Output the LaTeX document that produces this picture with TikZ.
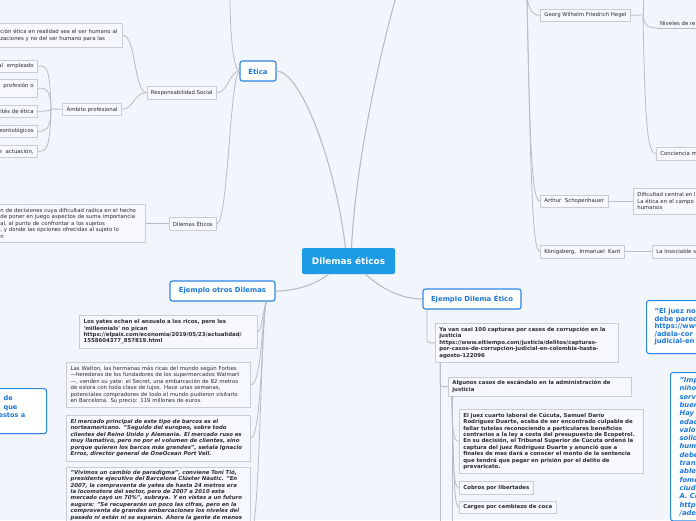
\documentclass[tikz,border=0pt]{standalone}
\usepackage{fontspec}
\setmainfont{DejaVu Sans}
\usetikzlibrary{shadows}
\definecolor{bg}{RGB}{242,245,252}
\definecolor{gfill}{RGB}{246,248,253}
\definecolor{gline}{RGB}{200,204,212}
\definecolor{gtext}{RGB}{45,45,50}
\definecolor{cline}{RGB}{185,188,195}
\definecolor{bborder}{RGB}{45,135,228}
\definecolor{btext}{RGB}{28,120,218}
\definecolor{rootblue}{RGB}{30,155,229}
\newcommand\gtxt{\fontsize{5.4}{6.45}\selectfont}
\newcommand\gtxtb{\bfseries\fontsize{5.4}{6.45}\selectfont}
\newcommand\gtxti{\bfseries\itshape\fontsize{5.4}{6.45}\selectfont}
\newcommand\btxt{\bfseries\fontsize{6.9}{8}\selectfont}
\newcommand\rtxt{\bfseries\fontsize{8.9}{10}\selectfont}
\newcommand\btxtl{\bfseries\fontsize{6.6}{8.4}\selectfont}
\newcommand\btxtj{\bfseries\fontsize{6.8}{7.5}\selectfont}
\newcommand\btxtk{\bfseries\itshape\fontsize{6.8}{8.3}\selectfont}
\tikzset{
  conn/.style={draw=cline, line width=0.8pt},
  rconn/.style={draw=cline, line width=1.1pt},
  gbox/.style={draw=gline, fill=gfill, line width=0.7pt, text=gtext, font=\gtxt, inner xsep=4pt, inner ysep=2.5pt, align=left},
  gboxb/.style={gbox, font=\gtxtb},
  gboxi/.style={gbox, font=\gtxti},
  lone/.style={draw=bborder, fill=white, line width=1.1pt, rounded corners=2.5pt, text=btext, font=\btxt, drop shadow={opacity=0.18, shadow xshift=0.6pt, shadow yshift=-0.8pt}},
  rootbox/.style={fill=rootblue, rounded corners=2pt, text=white, font=\rtxt, minimum width=93pt, minimum height=26pt, inner sep=0pt},
}
\begin{document}
\begin{tikzpicture}[x=1pt,y=-1pt]
\useasboundingbox (0,0) rectangle (696,520);
\clip (0,0) rectangle (696,520);
\fill[bg] (0,0) rectangle (696,520);

% free ends
\coordinate (topC) at (396,-3);
\coordinate (topL) at (230,-3);
\coordinate (topR) at (527,-3);
\coordinate (hj) at (643,15);
\coordinate (topH) at (643,-3);
\coordinate (aj) at (51,109);
\coordinate (nivEnd) at (700,28);
\coordinate (yaEnd) at (440,530);
\coordinate (algEnd) at (452,530);

% main nodes
\node[rootbox] (root) at (348.5,261) {Dilemas éticos};
\node[lone, minimum width=36pt, minimum height=20pt, inner sep=0pt] (etica) at (258,71) {Ética};
\node[lone, minimum width=105pt, minimum height=20pt, inner sep=0pt] (otros) at (222.5,291) {Ejemplo otros Dilemas};
\node[lone, minimum width=98pt, minimum height=20pt, inner sep=0pt] (dilema) at (472,299) {Ejemplo Dilema Ético};

% left: Etica branch
\node[gbox, anchor=north east, minimum height=13pt] (rs) at (217,86) {Responsabilidad Social};
\node[gbox, anchor=north west, text width=118pt, minimum height=24pt] (tl) at (-4,23) {ción ética en realidad sea el ser humano al\\zaciones y no del ser humano para las};
\node[gbox, anchor=north east, minimum height=12pt] (amb) at (122,103) {Ámbito profesional};
\node[gbox, anchor=north east, text width=60pt, align=right, minimum height=11.5pt] (b1) at (38,60) {al\ \ empleado};
\node[gbox, anchor=north east, text width=60pt, align=right, minimum height=18pt] (b2) at (38,79) {profesión o\\~};
\node[gbox, anchor=north east, text width=60pt, align=right, minimum height=12pt] (b3) at (38,105) {ités de ética};
\node[gbox, anchor=north east, text width=60pt, align=right, minimum height=12pt] (b4) at (38,125) {deontológicos};
\node[gbox, anchor=north east, text width=60pt, align=right, minimum height=12pt] (b5) at (38,145) {de\ \ actuación,};
\node[gbox, anchor=north east, minimum height=12.5pt] (de) at (217,217) {Dilemas Éticos};
\node[gbox, anchor=north west, text width=141pt, minimum height=38pt] (big) at (-4,204) {n de decisiones cuya dificultad radica en el hecho\\de poner en juego aspectos de suma importancia\\al, al punto de confrontar a los sujetos\\, y donde las opciones ofrecidas al sujeto lo\\n};

% left blue box
\node[lone, anchor=north west, text width=42pt, align=left, inner xsep=4pt, inner ysep=5pt, minimum height=45pt, font=\btxtl] (lb) at (-4,388) {\hspace*{3pt}de\\\hspace*{3pt}que\\\hspace*{-2pt}estos a\\~};

% Ejemplo otros Dilemas children
\node[gboxb, anchor=north east, text width=170pt, minimum height=33pt] (y1) at (258,315) {Los yates echan el anzuelo a los ricos, pero los\\\textquotesingle millennials\textquotesingle{} no pican\\https://elpais.com/economia/2019/05/23/actualidad/\\1558604377\_857819.html};
\node[gbox, anchor=north east, text width=176pt, minimum height=45pt] (y2) at (251,362) {Las Walton, las hermanas más ricas del mundo según Forbes\\—herederas de los fundadores de los supermercados Walmart\\—, venden su yate: el Secret, una embarcación de 82 metros\\de eslora con toda clase de lujos. Hace unas semanas,\\potenciales compradores de todo el mundo pudieron visitarlo\\en Barcelona. Su precio: 119 millones de euros.};
\node[gboxi, anchor=north east, text width=176pt, minimum height=46pt] (y3) at (251,414.5) {El mercado principal de este tipo de barcos es el\\norteamericano. "Seguido del europeo, sobre todo\\clientes del Reino Unido y Alemania. El mercado ruso es\\muy llamativo, pero no por el volumen de clientes, sino\\porque quieren los barcos más grandes", señala Ignacio\\Erroz, director general de OneOcean Port Vell.};
\node[gboxi, anchor=north east, text width=176pt] (y4) at (251,467) {"Vivimos un cambio de paradigma", conviene Toni Tió,\\presidente ejecutivo del Barcelona Clúster Nàutic. "En\\2007, la compraventa de yates de hasta 24 metros era\\la locomotora del sector, pero de 2007 a 2010 este\\mercado cayó un 70\%", subraya. Y en vistas a un futuro\\augura: "Se recuperarán un poco las cifras, pero en la\\compraventa de grandes embarcaciones los niveles del\\pasado ni están ni se esperan. Ahora la gente de menos\\[70pt]~};

% Ejemplo Dilema Etico children
\node[gboxb, anchor=north west, text width=175pt, minimum height=39pt] (ya) at (435,323) {Ya van casi 100 capturas por casos de corrupción en la\\justicia\\https://www.eltiempo.com/justicia/delitos/capturas-\\por-casos-de-corrupcion-judicial-en-colombia-hasta-\\agosto-122096};
\node[gboxb, anchor=north west, text width=175pt, minimum height=18.5pt] (alg) at (448,377) {Algunos casos de escándalo en la administración de\\justicia};
\node[gboxb, anchor=north west, text width=176pt, minimum height=64pt] (jc) at (459,409) {El juez cuarto laboral de Cúcuta, Samuel Darío\\Rodríguez Duarte, acaba de ser encontrado culpable de\\fallar tutelas reconociendo a particulares beneficios\\contrarios a la ley a costa del presupuesto de Ecopetrol.\\En su decisión, el Tribunal Superior de Cúcuta ordenó la\\captura del juez Rodríguez Duarte y anunció que a\\finales de mes dará a conocer el monto de la sentencia\\que tendrá que pagar en prisión por el delito de\\prevaricato.};
\node[gboxb, anchor=north west, minimum height=12.5pt] (cob) at (459,481) {Cobros por libertades};
\node[gboxb, anchor=north west, minimum height=12.5pt] (car) at (459,500.5) {Cargos por cambiazo de coca};

% right blue boxes
\node[lone, anchor=north west, text width=60pt, align=left, inner xsep=8pt, inner ysep=5pt, minimum height=53pt, font=\btxtj] (juez) at (646,300) {"El juez no\\debe parec\\https://www\\/adela-cor\\judicial-en};
\node[lone, anchor=north west, text width=40pt, align=left, inner xsep=9pt, inner ysep=5pt, font=\btxtk] (imp) at (670,372) {"Imp\\niño\\serv\\buen\\Hay\\edac\\valo\\solid\\hum\\debe\\trans\\able\\fome\\ciud\\A. Co\\https\\/ade};

% right: philosophers
\node[gbox, anchor=north west, minimum height=12pt] (hegel) at (540,9) {Georg Wilhelm Friedrich Hegel};
\node[gbox, anchor=north west, minimum height=12pt] (schop) at (540,195) {Arthur\ \ Schopenhauer};
\node[gbox, anchor=north west, minimum height=12.5pt] (kant) at (540,245) {Königsberg,\ \ Inmanuel\ \ Kant};
\node[gbox, anchor=north west, text width=100pt, minimum height=26pt] (dific) at (633,188) {Dificultad central en l\\La ética en el campo\\humanos};
\node[gbox, anchor=north west, text width=100pt, minimum height=12.5pt] (insoc) at (652,245) {La insociable s};
\node[gbox, anchor=north west, text width=100pt, minimum height=13pt] (conc) at (656,147) {Conciencia m};
\node[anchor=south west, inner xsep=3pt, inner ysep=2pt, font=\gtxt, text=gtext] (niv) at (657,28) {Niveles de re};

% connectors from root
\draw[rconn] ([xshift=-3pt]root.north) .. controls (335,160) and (300,71) .. (etica.east);
\draw[rconn] ([xshift=3pt]root.north) .. controls (355,170) and (378,60) .. (topC);
\draw[rconn] ([xshift=-20pt]root.south) .. controls (315,285) and (295,291) .. (otros.east);
\draw[rconn] ([xshift=17pt]root.south) .. controls (385,292) and (405,299) .. (dilema.west);

% Etica
\draw[conn] (etica.west) .. controls (233,70) and (230,30) .. (topL);
\draw[conn] (etica.west) .. controls (230,71) and (228,92) .. (rs.east);
\draw[conn] (etica.west) .. controls (230,75) and (228,222) .. (de.east);
\draw[conn] (rs.west) .. controls (134,92) and (136,35) .. (tl.east);
\draw[conn] (rs.west) .. controls (134,92) and (134,109) .. (amb.east);
\draw[conn] (amb.west) -- (aj);
\draw[conn] (aj) .. controls (50,65.5) and (46,65.5) .. (b1.east);
\draw[conn] (aj) .. controls (50,88) and (46,88) .. (b2.east);
\draw[conn] (aj) .. controls (50,111) and (46,111) .. (b3.east);
\draw[conn] (aj) .. controls (50,131) and (46,131) .. (b4.east);
\draw[conn] (aj) .. controls (50,151) and (46,151) .. (b5.east);
\draw[conn] (de.west) -- (big.east);

% otros children
\draw[conn] ([xshift=-9pt]otros.south east) .. controls (262,312) and (262,331) .. (y1.east);
\draw[conn] ([xshift=-9pt]otros.south east) .. controls (262,312) and (262,384) .. (y2.east);
\draw[conn] ([xshift=-9pt]otros.south east) .. controls (262,312) and (262,437) .. (y3.east);
\draw[conn] ([xshift=-9pt]otros.south east) .. controls (261,312) and (260,530) .. (y4.east);

% dilema children
\draw[conn, rounded corners=3pt] ([xshift=-45pt]dilema.south) |- (ya.west);
\draw[conn, rounded corners=3pt] ([xshift=5pt]ya.south west) |- (alg.west);
\draw[conn] ([xshift=5pt]ya.south west) -- (yaEnd);
\draw[conn] ([xshift=4pt]alg.south west) .. controls (452,430) and (453,441) .. (jc.west);
\draw[conn] ([xshift=4pt]alg.south west) .. controls (453,475) and (454,487) .. (cob.west);
\draw[conn] ([xshift=4pt]alg.south west) .. controls (454,495) and (455,506.5) .. (car.west);
\draw[conn] ([xshift=4pt]alg.south west) -- (algEnd);

% philosophers
\draw[conn] (topR) .. controls (529,10) and (532,15) .. (hegel.west);
\draw[conn] (topR) .. controls (530,150) and (532,201) .. (schop.west);
\draw[conn] (topR) .. controls (531,200) and (533,251) .. (kant.west);
\draw[conn] (hegel.east) -- (hj);
\draw[conn] (hj) -- (topH);
\draw[conn] (hj) .. controls (644,27) and (650,28) .. (niv.south west);
\draw[conn] (niv.south west) -- (nivEnd);
\draw[conn] (hj) .. controls (645,120) and (647,153.5) .. (conc.west);
\draw[conn] (schop.east) -- (dific.west);
\draw[conn] (kant.east) -- (insoc.west);
\end{tikzpicture}
\end{document}
